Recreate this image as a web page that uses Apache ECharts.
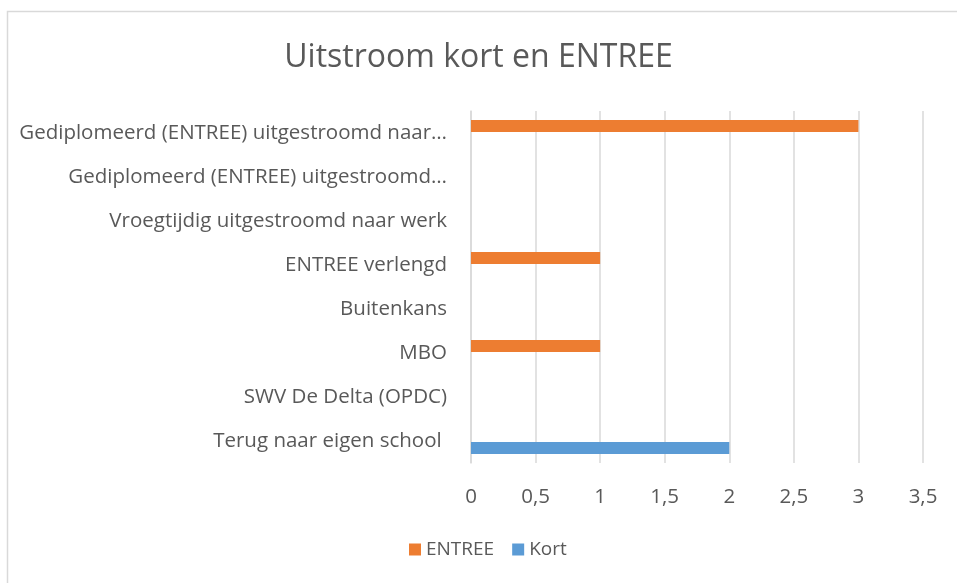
<!DOCTYPE html>
<html>
<head>
<meta charset="utf-8">
<title>Uitstroom kort en ENTREE</title>
<script src="https://cdn.jsdelivr.net/npm/echarts@6/dist/echarts.min.js"></script>
<style>
  html, body { margin: 0; padding: 0; background: #fff; }
  #chart { width: 957px; height: 583px; }
</style>
</head>
<body>
<div id="chart"></div>
<script>
// categories top to bottom, as shown in the chart
var categories = [
  "Gediplomeerd (ENTREE) uitgestroomd naar…",
  "Gediplomeerd (ENTREE) uitgestroomd…",
  "Vroegtijdig uitgestroomd naar werk",
  "ENTREE verlengd",
  "Buitenkans",
  "MBO",
  "SWV De Delta (OPDC)",
  "Terug naar eigen school "
];
var entreeValues = [3, 0, 0, 1, 0, 1, 0, 0];
var kortValues = [0, 0, 0, 0, 0, 0, 0, 2];
var xMax = 3.5;
var xStep = 0.5;

var font = "'Open Sans', 'Noto Sans', sans-serif";
var textColor = "#595959";

var chart = echarts.init(document.getElementById("chart"));
chart.setOption({
  animation: false,
  textStyle: { fontFamily: font },
  title: {
    text: "Uitstroom kort en ENTREE",
    left: "center",
    top: 37,
    textStyle: { fontFamily: font, fontSize: 32, fontWeight: "normal", color: textColor }
  },
  graphic: [
    {
      type: "rect",
      shape: { x: 7.5, y: 11.5, width: 1000, height: 700 },
      style: { fill: "none", stroke: "#d9d9d9", lineWidth: 1.5 },
      silent: true
    }
  ],
  legend: {
    left: 404,
    top: 535,
    itemWidth: 12,
    itemHeight: 12,
    itemGap: 18,
    icon: "rect",
    textStyle: { fontFamily: font, fontSize: 19, color: textColor },
    data: ["ENTREE", "Kort"]
  },
  grid: {
    left: 471,
    right: 34,
    top: 111,
    bottom: 120,
    containLabel: false
  },
  xAxis: {
    type: "value",
    min: 0,
    max: xMax,
    interval: xStep,
    axisLine: { show: false },
    axisTick: { show: false },
    splitLine: { lineStyle: { color: "#d9d9d9", width: 1.5 } },
    axisLabel: {
      margin: 24,
      fontSize: 20.5,
      color: textColor,
      fontFamily: font,
      formatter: function (v) { return String(v).replace(".", ","); }
    }
  },
  yAxis: {
    type: "category",
    inverse: true,
    data: categories,
    axisLine: { show: true, lineStyle: { color: "#d9d9d9", width: 1.5 } },
    axisTick: { show: false },
    axisLabel: {
      margin: 24,
      fontSize: 20.5,
      color: textColor,
      fontFamily: font
    }
  },
  series: [
    {
      name: "ENTREE",
      type: "bar",
      data: entreeValues,
      barWidth: 12,
      barGap: "15%",
      itemStyle: { color: "#ED7D31" }
    },
    {
      name: "Kort",
      type: "bar",
      data: kortValues,
      barWidth: 12,
      barGap: "15%",
      itemStyle: { color: "#5B9BD5" }
    }
  ]
});
</script>
</body>
</html>
